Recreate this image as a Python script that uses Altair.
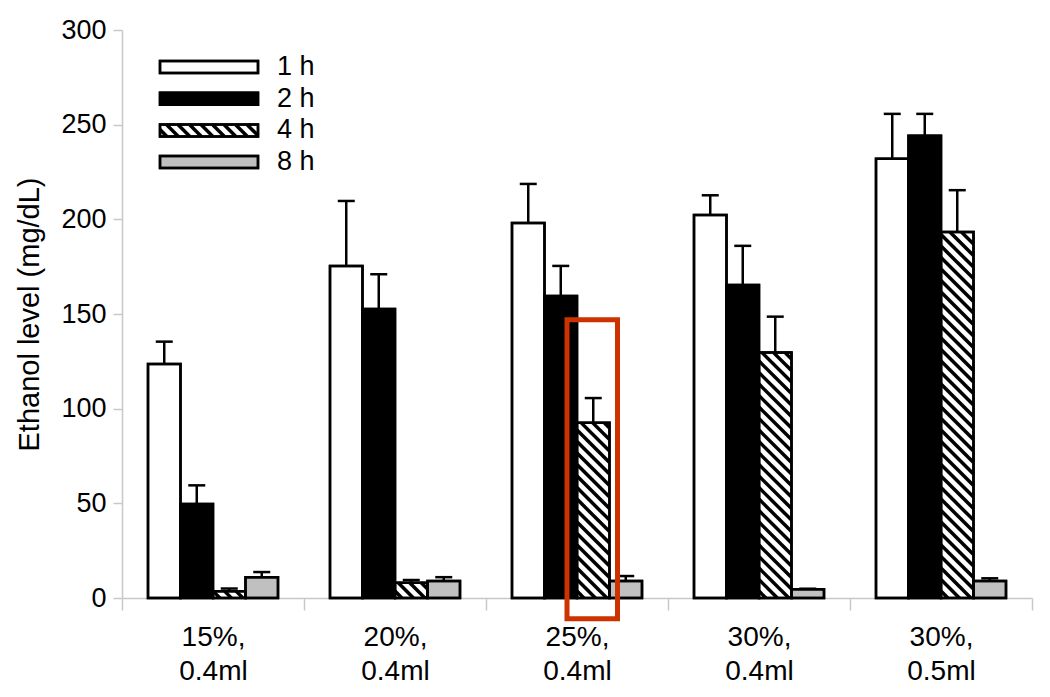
import json
import altair as alt
import pandas as pd

# ---------------- data ----------------
categories = ["15%, 0.4ml", "20%, 0.4ml", "25%, 0.4ml", "30%, 0.4ml", "30%, 0.5ml"]
series = ["1 h", "2 h", "4 h", "8 h"]

mean_1h = [123.6, 175.4, 198.0, 202.3, 232.0]
err_1h = [11.8, 34.3, 20.7, 10.4, 23.7]
mean_2h = [49.7, 152.7, 159.5, 165.3, 244.2]
err_2h = [9.8, 18.3, 15.9, 20.7, 11.5]
mean_4h = [3.5, 8.0, 92.5, 129.6, 193.3]
err_4h = [1.5, 1.5, 13.1, 19.0, 22.1]
mean_8h = [11.0, 9.0, 9.0, 4.6, 9.0]
err_8h = [2.7, 2.0, 2.6, 0.3, 1.4]

y_ticks = [0, 50, 100, 150, 200, 250, 300]
y_title = "Ethanol level (mg/dL)"

highlight_category = "25%, 0.4ml"
highlight_series = "4 h"
highlight_top = 147

# ---------------- style / layout ----------------
fills = {"1 h": "#ffffff", "2 h": "#000000", "4 h": "#ffffff", "8 h": "#c0c0c0"}
hatched = {"4 h"}
FONT = "Liberation Sans"
W, H = 910, 568
Y_MAX = 300
PX_X = W / len(categories)      # px per group unit
PX_Y = H / Y_MAX                # px per mg/dL
GROUP_PAD = 26 / PX_X
BAR_W = (1 - 2 * GROUP_PAD) / len(series)
CAP_HALF = 8.5 / PX_X
HATCH_PERIOD = 11.5

means = [mean_1h, mean_2h, mean_4h, mean_8h]
errs = [err_1h, err_2h, err_4h, err_8h]


def hatch_segments(x0, x1, v0, v1, period=HATCH_PERIOD):
    wp = (x1 - x0) * PX_X
    hp = (v1 - v0) * PX_Y
    segs = []
    c = period * 0.6
    while c < wp + hp:
        u1 = max(0.0, c - hp)
        u2 = min(wp, c)
        if u2 > u1:
            segs.append({"x": x0 + u1 / PX_X, "x2": x0 + u2 / PX_X,
                         "y": v0 + (c - u1) / PX_Y, "y2": v0 + (c - u2) / PX_Y})
        c += period
    return segs


rows, hatch_rows = [], []
for g, cat in enumerate(categories):
    for s, ser in enumerate(series):
        x0 = g + GROUP_PAD + s * BAR_W
        x1 = x0 + BAR_W
        xc = (x0 + x1) / 2
        v = means[s][g]
        e = errs[s][g]
        rows.append({"category": cat, "series": ser, "x0": x0, "x1": x1, "xc": xc,
                     "value": v, "top": v + e, "cap0": xc - CAP_HALF, "cap1": xc + CAP_HALF,
                     "fill": fills[ser]})
        if ser in hatched:
            hatch_rows += hatch_segments(x0, x1, 0, v)
bars = pd.DataFrame(rows)
hatch_df = pd.DataFrame(hatch_rows)

# legend (inside plot, top-left)
leg_rows, leg_hatch = [], []
for i, ser in enumerate(series):
    cy_px = 37 + i * 31.7
    yc = Y_MAX - cy_px / PX_Y
    half = 6 / PX_Y
    lx0, lx1 = 38 / PX_X, 136 / PX_X
    leg_rows.append({"series": ser, "x0": lx0, "x1": lx1, "y0": yc - half, "y1": yc + half,
                     "yc": yc, "tx": 155 / PX_X, "fill": fills[ser]})
    if ser in hatched:
        leg_hatch += hatch_segments(lx0, lx1, yc - half, yc + half)
legend = pd.DataFrame(leg_rows)
legend_hatch = pd.DataFrame(leg_hatch)

hb = bars[(bars.category == highlight_category) & (bars.series == highlight_series)].iloc[0]
box = pd.DataFrame([{"x0": hb.x0 - 10 / PX_X, "x1": hb.x1 + 8 / PX_X,
                     "y0": -11.0, "y1": highlight_top}])

xs = alt.Scale(domain=[0, len(categories)], nice=False, zero=False)
ys = alt.Scale(domain=[0, Y_MAX], nice=False)

tick_axis = alt.Axis(orient="bottom", values=list(range(len(categories) + 1)), labels=False,
                     tickSize=12, domainColor="#c8c8c8", tickColor="#c8c8c8", domainWidth=1.5,
                     tickWidth=1.5, grid=False, title=None)
label_expr = "split(" + json.dumps(categories) + "[floor(datum.value)], ' ')"
label_axis = alt.Axis(orient="bottom", values=[g + 0.5 for g in range(len(categories))],
                      ticks=False, domain=False, grid=False, title=None, labelExpr=label_expr,
                      labelPadding=25, labelLineHeight=34, labelFontSize=28,
                      labelFont=FONT, labelColor="#000000", labelBaseline="top")
y_axis = alt.Axis(orient="left", values=y_ticks, grid=False, tickSize=9, domainColor="#c8c8c8",
                  tickColor="#c8c8c8", domainWidth=1.5, tickWidth=1.5, labelPadding=7,
                  labelFontSize=27, labelFont=FONT, labelColor="#000000",
                  title=y_title, titleFont=FONT, titleFontSize=29, titleFontWeight="normal",
                  titleColor="#000000", titlePadding=16)

bar_fill = alt.Chart(bars).mark_rect(stroke="#000000", strokeWidth=2.5).encode(
    x=alt.X("x0:Q", scale=xs, axis=tick_axis), x2="x1:Q",
    y=alt.Y("value:Q", scale=ys, axis=y_axis), y2=alt.datum(0),
    fill=alt.Fill("fill:N", scale=None))

hatch = alt.Chart(hatch_df).mark_rule(color="#000000", strokeWidth=3.5, strokeCap="butt").encode(
    x=alt.X("x:Q", scale=xs, axis=None), x2="x2:Q",
    y=alt.Y("y:Q", scale=ys, axis=None), y2="y2:Q")

bar_line = alt.Chart(bars).mark_rect(fillOpacity=0, stroke="#000000", strokeWidth=2.5).encode(
    x=alt.X("x0:Q", scale=xs, axis=None), x2="x1:Q",
    y=alt.Y("value:Q", scale=ys, axis=None), y2=alt.datum(0))

err_v = alt.Chart(bars).mark_rule(color="#000000", strokeWidth=2.5).encode(
    x=alt.X("xc:Q", scale=xs, axis=None),
    y=alt.Y("value:Q", scale=ys, axis=None), y2="top:Q")

err_cap = alt.Chart(bars).mark_rule(color="#000000", strokeWidth=2.5).encode(
    x=alt.X("cap0:Q", scale=xs, axis=label_axis), x2="cap1:Q",
    y=alt.Y("top:Q", scale=ys, axis=None))

leg_fill = alt.Chart(legend).mark_rect(stroke="#000000", strokeWidth=2.5).encode(
    x=alt.X("x0:Q", scale=xs, axis=None), x2="x1:Q",
    y=alt.Y("y0:Q", scale=ys, axis=None), y2="y1:Q",
    fill=alt.Fill("fill:N", scale=None))
leg_hatch_l = alt.Chart(legend_hatch).mark_rule(color="#000000", strokeWidth=3.5, strokeCap="butt").encode(
    x=alt.X("x:Q", scale=xs, axis=None), x2="x2:Q",
    y=alt.Y("y:Q", scale=ys, axis=None), y2="y2:Q")
leg_line = alt.Chart(legend).mark_rect(fillOpacity=0, stroke="#000000", strokeWidth=2.5).encode(
    x=alt.X("x0:Q", scale=xs, axis=None), x2="x1:Q",
    y=alt.Y("y0:Q", scale=ys, axis=None), y2="y1:Q")
leg_text = alt.Chart(legend).mark_text(align="left", baseline="middle", font=FONT,
                                        fontSize=27, color="#000000").encode(
    x=alt.X("tx:Q", scale=xs, axis=None),
    y=alt.Y("yc:Q", scale=ys, axis=None), text="series:N")

red_box = alt.Chart(box).mark_rect(fillOpacity=0, stroke="#cc3300", strokeWidth=5).encode(
    x=alt.X("x0:Q", scale=xs, axis=None), x2="x1:Q",
    y=alt.Y("y0:Q", scale=ys, axis=None), y2="y1:Q")

chart = alt.layer(bar_fill, hatch, bar_line, err_v, err_cap,
                  leg_fill, leg_hatch_l, leg_line, leg_text, red_box).resolve_axis(
    x="independent", y="independent").properties(
    width=W, height=H, autosize=alt.AutoSizeParams(type="none"),
    padding={"left": 114, "top": 22, "right": 8, "bottom": 90},
    background="#ffffff").configure_view(stroke=None)

chart.save("out.html", embed_options={"renderer": "svg", "actions": False})
